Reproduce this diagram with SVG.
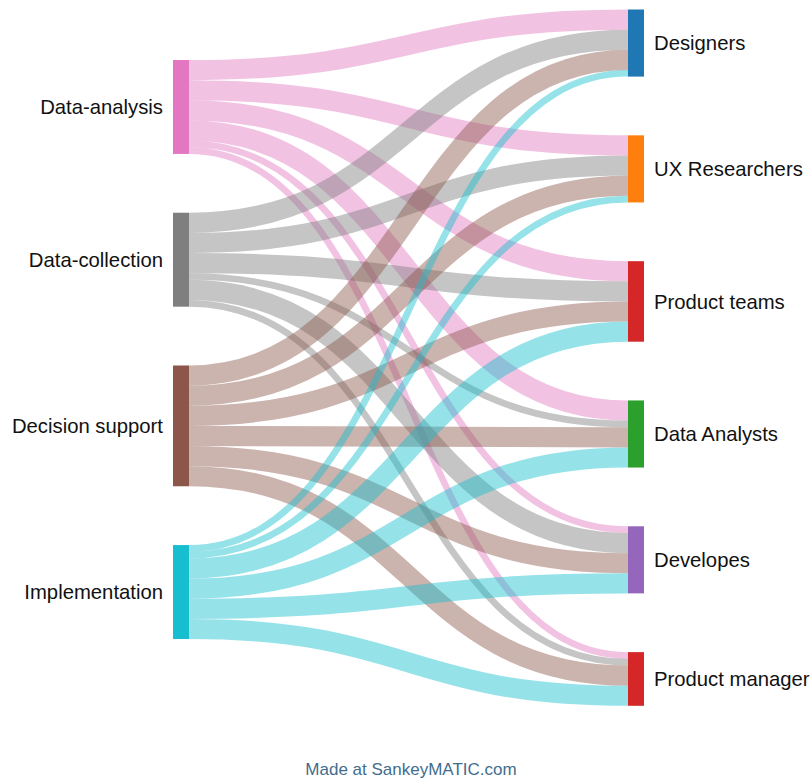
<svg xmlns="http://www.w3.org/2000/svg" width="812" height="780" viewBox="0 0 812 780">
  <style>
    .flow { fill: none; stroke-opacity: 0.45; }
    .f1 { stroke-width: 6.71; }
    .f3 { stroke-width: 20.13; }
    .da { stroke: #e377c2; }
    .dc { stroke: #7f7f7f; }
    .ds { stroke: #8c564b; }
    .im { stroke: #17becf; }
    .label { font-family: "Liberation Sans", Arial, sans-serif; font-size: 20.3px; fill: #111; }
    .left { text-anchor: end; }
    .credit { font-family: "Liberation Sans", Arial, sans-serif; font-size: 17px; fill: #3f6d8e; text-anchor: middle; }
  </style>
  <rect width="812" height="780" fill="#ffffff"/>

  <!-- flows: source x=189, target x=628, control points at mid x -->
  <g id="connectors">
    <!-- Data-analysis -->
    <path class="flow f3 da" d="M189,70.07 C408.5,70.07 408.5,19.57 628,19.57"/>
    <path class="flow f3 da" d="M189,90.2 C408.5,90.2 408.5,145.41 628,145.41"/>
    <path class="flow f3 da" d="M189,110.33 C408.5,110.33 408.5,271.25 628,271.25"/>
    <path class="flow f3 da" d="M189,130.46 C408.5,130.46 408.5,410.51 628,410.51"/>
    <path class="flow f1 da" d="M189,143.88 C408.5,143.88 408.5,529.64 628,529.64"/>
    <path class="flow f1 da" d="M189,150.59 C408.5,150.59 408.5,655.48 628,655.48"/>
    <!-- Data-collection -->
    <path class="flow f3 dc" d="M189,222.81 C408.5,222.81 408.5,39.7 628,39.7"/>
    <path class="flow f3 dc" d="M189,242.94 C408.5,242.94 408.5,165.54 628,165.54"/>
    <path class="flow f3 dc" d="M189,263.07 C408.5,263.07 408.5,291.38 628,291.38"/>
    <path class="flow f1 dc" d="M189,276.49 C408.5,276.49 408.5,423.93 628,423.93"/>
    <path class="flow f3 dc" d="M189,289.91 C408.5,289.91 408.5,543.06 628,543.06"/>
    <path class="flow f1 dc" d="M189,303.33 C408.5,303.33 408.5,662.19 628,662.19"/>
    <!-- Decision support -->
    <path class="flow f3 ds" d="M189,375.55 C408.5,375.55 408.5,59.83 628,59.83"/>
    <path class="flow f3 ds" d="M189,395.68 C408.5,395.68 408.5,185.67 628,185.67"/>
    <path class="flow f3 ds" d="M189,415.81 C408.5,415.81 408.5,311.51 628,311.51"/>
    <path class="flow f3 ds" d="M189,435.94 C408.5,435.94 408.5,437.35 628,437.35"/>
    <path class="flow f3 ds" d="M189,456.07 C408.5,456.07 408.5,563.19 628,563.19"/>
    <path class="flow f3 ds" d="M189,476.2 C408.5,476.2 408.5,675.61 628,675.61"/>
    <!-- Implementation -->
    <path class="flow f1 im" d="M189,548.42 C408.5,548.42 408.5,73.25 628,73.25"/>
    <path class="flow f1 im" d="M189,555.13 C408.5,555.13 408.5,199.09 628,199.09"/>
    <path class="flow f3 im" d="M189,568.55 C408.5,568.55 408.5,331.64 628,331.64"/>
    <path class="flow f3 im" d="M189,588.68 C408.5,588.68 408.5,457.48 628,457.48"/>
    <path class="flow f3 im" d="M189,608.81 C408.5,608.81 408.5,583.32 628,583.32"/>
    <path class="flow f3 im" d="M189,628.94 C408.5,628.94 408.5,695.74 628,695.74"/>
  </g>

  <!-- source nodes -->
  <g id="data-analysis">
    <rect x="173" y="60" width="16" height="93.94" fill="#e377c2"/>
    <text class="label left" x="163" y="107" dy="0.35em">Data-analysis</text>
  </g>
  <g id="data-collection">
    <rect x="173" y="212.74" width="16" height="93.94" fill="#7f7f7f"/>
    <text class="label left" x="163" y="259.7" dy="0.35em">Data-collection</text>
  </g>
  <g id="decision-support">
    <rect x="173" y="365.48" width="16" height="120.78" fill="#8c564b"/>
    <text class="label left" x="163" y="425.9" dy="0.35em">Decision support</text>
  </g>
  <g id="implementation">
    <rect x="173" y="545.06" width="16" height="93.94" fill="#17becf"/>
    <text class="label left" x="163" y="592" dy="0.35em">Implementation</text>
  </g>

  <!-- target nodes -->
  <g id="designers">
    <rect x="628" y="9.5" width="16" height="67.1" fill="#1f77b4"/>
    <text class="label" x="654" y="43" dy="0.35em">Designers</text>
  </g>
  <g id="ux-researchers">
    <rect x="628" y="135.34" width="16" height="67.1" fill="#ff7f0e"/>
    <text class="label" x="654" y="168.9" dy="0.35em">UX Researchers</text>
  </g>
  <g id="product-teams">
    <rect x="628" y="261.18" width="16" height="80.52" fill="#d62728"/>
    <text class="label" x="654" y="301.4" dy="0.35em">Product teams</text>
  </g>
  <g id="data-analysts">
    <rect x="628" y="400.44" width="16" height="67.1" fill="#2ca02c"/>
    <text class="label" x="654" y="434" dy="0.35em">Data Analysts</text>
  </g>
  <g id="developes">
    <rect x="628" y="526.28" width="16" height="67.1" fill="#9467bd"/>
    <text class="label" x="654" y="559.8" dy="0.35em">Developes</text>
  </g>
  <g id="product-manager">
    <rect x="628" y="652.12" width="16" height="53.68" fill="#d62728"/>
    <text class="label" x="654" y="679" dy="0.35em">Product manager</text>
  </g>

  <text class="credit" x="411" y="775">Made at SankeyMATIC.com</text>
</svg>
